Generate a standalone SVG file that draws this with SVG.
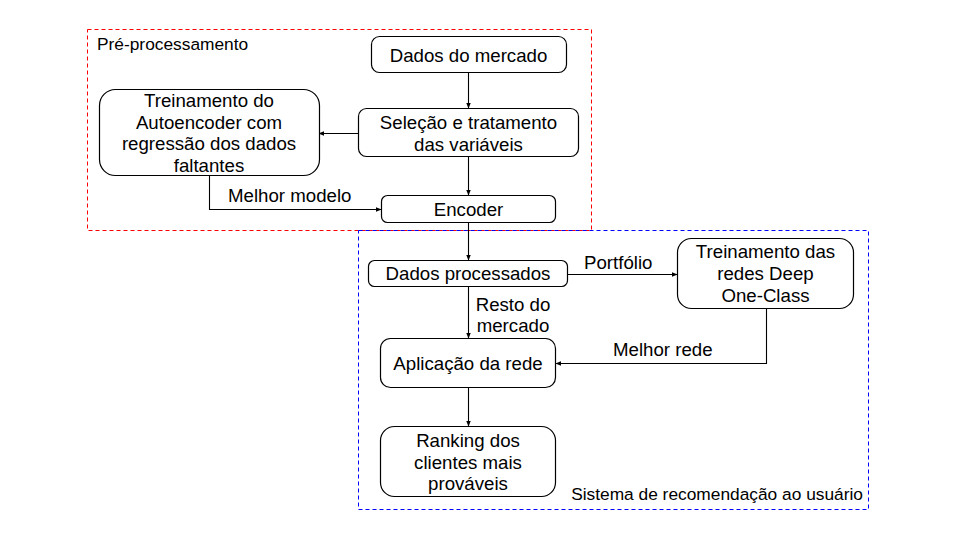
<svg xmlns="http://www.w3.org/2000/svg" width="960" height="540" viewBox="0 0 960 540">
  <defs>
    <style>
      .node { fill: #ffffff; stroke: #000000; stroke-width: 1.2; }
      .t { font-family: "Liberation Sans", Arial, sans-serif; font-size: 18.67px; fill: #000000; text-anchor: middle; }
      .lbl { font-family: "Liberation Sans", Arial, sans-serif; font-size: 18.67px; fill: #000000; }
      .grp { font-family: "Liberation Sans", Arial, sans-serif; font-size: 17.33px; fill: #000000; }
      .edge { fill: none; stroke: #000000; stroke-width: 1.1; marker-end: url(#arr); }
    </style>
    <marker id="arr" viewBox="0 0 10 10" refX="9" refY="5" markerWidth="6" markerHeight="6" markerUnits="userSpaceOnUse" orient="auto">
      <path d="M0,1 L10,5 L0,9 Z" fill="#000000"/>
    </marker>
  </defs>
  <rect width="960" height="540" fill="#ffffff"/>

  <g id="group-preprocessamento">
    <rect x="87.5" y="29.5" width="504" height="201" fill="none" stroke="#ff0000" stroke-width="1" stroke-dasharray="4,3"/>
    <text class="grp" x="97" y="50">Pré-processamento</text>
  </g>
  <g id="group-sistema">
    <rect x="358.5" y="230.5" width="510" height="279" fill="none" stroke="#0000ff" stroke-width="1" stroke-dasharray="4,3"/>
    <text class="grp" x="863" y="500" text-anchor="end">Sistema de recomendação ao usuário</text>
  </g>

  <g id="connectors">
    <path class="edge" d="M468.5,73 L468.5,108"/>
    <path class="edge" d="M358,133.5 L319,133.5"/>
    <path class="edge" d="M468.5,157 L468.5,195"/>
    <path class="edge" d="M209.5,176 L209.5,209.5 L381,209.5"/>
    <text class="lbl" x="228" y="202">Melhor modelo</text>
    <path class="edge" d="M468.5,223 L468.5,260"/>
    <path class="edge" d="M568,274.5 L677,274.5"/>
    <text class="lbl" x="584" y="269">Portfólio</text>
    <path class="edge" d="M468.5,287 L468.5,338"/>
    <text class="t" x="513" y="311">Resto do</text>
    <text class="t" x="513" y="332">mercado</text>
    <path class="edge" d="M766.5,309 L766.5,363.5 L556,363.5"/>
    <text class="lbl" x="613" y="356">Melhor rede</text>
    <path class="edge" d="M468.5,388 L468.5,426"/>
  </g>

  <g id="node-dados-mercado">
    <rect class="node" x="371.5" y="36.5" width="195" height="36" rx="8"/>
    <text class="t" x="468.5" y="62">Dados do mercado</text>
  </g>
  <g id="node-autoencoder">
    <rect class="node" x="99.5" y="89.5" width="220" height="86" rx="16"/>
    <text class="t" x="209" y="107">Treinamento do</text>
    <text class="t" x="209" y="128.5">Autoencoder com</text>
    <text class="t" x="209" y="150">regressão dos dados</text>
    <text class="t" x="209" y="171.5">faltantes</text>
  </g>
  <g id="node-selecao">
    <rect class="node" x="358.5" y="108.5" width="220" height="48" rx="8"/>
    <text class="t" x="468.5" y="129">Seleção e tratamento</text>
    <text class="t" x="468.5" y="150.5">das variáveis</text>
  </g>
  <g id="node-encoder">
    <rect class="node" x="381.5" y="195.5" width="174" height="27" rx="6"/>
    <text class="t" x="468.5" y="215.5">Encoder</text>
  </g>
  <g id="node-dados-processados">
    <rect class="node" x="368.5" y="260.5" width="199" height="26" rx="6"/>
    <text class="t" x="468" y="280">Dados processados</text>
  </g>
  <g id="node-treinamento-redes">
    <rect class="node" x="677.5" y="238.5" width="176" height="70" rx="14"/>
    <text class="t" x="765.5" y="258">Treinamento das</text>
    <text class="t" x="765.5" y="280">redes Deep</text>
    <text class="t" x="765.5" y="301.5">One-Class</text>
  </g>
  <g id="node-aplicacao">
    <rect class="node" x="380.5" y="338.5" width="175" height="49" rx="10"/>
    <text class="t" x="468" y="370">Aplicação da rede</text>
  </g>
  <g id="node-ranking">
    <rect class="node" x="380.5" y="426.5" width="175" height="70" rx="14"/>
    <text class="t" x="468" y="447">Ranking dos</text>
    <text class="t" x="468" y="468.5">clientes mais</text>
    <text class="t" x="468" y="490">prováveis</text>
  </g>
</svg>
